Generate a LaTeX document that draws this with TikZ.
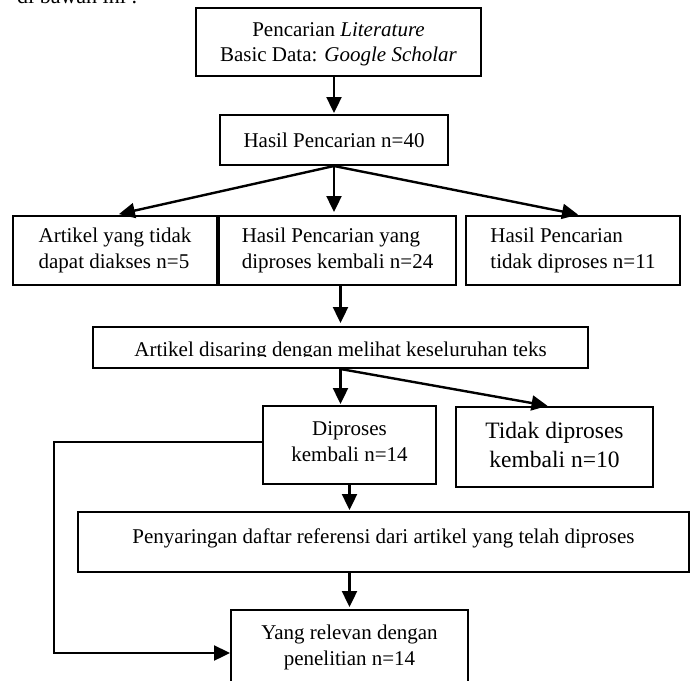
\documentclass[tikz,border=0pt]{standalone}
\usepackage{fontspec}
\setmainfont{Liberation Serif}
\usetikzlibrary{arrows.meta}

\tikzset{
  teks/.style={font=\fontsize{21}{25.5}\selectfont},
  box/.style={draw, line width=2pt, inner sep=0pt, teks},
  cbox/.style={box, align=center},
  lbox/.style={box, align=left},
  conn/.style={line width=2.4pt, ->},
}

\begin{document}
\begin{tikzpicture}[x=1pt, y=-1pt, >={Triangle[length=16pt,width=15pt]}]
\useasboundingbox (0,0) rectangle (696,680);

% sisa kalimat di atas bagan
\node[anchor=base west, font=\fontsize{22}{26}\selectfont, inner sep=0pt] (pengantar) at (17,3) {di bawah ini :};

\node[cbox, minimum width=285pt, minimum height=68pt, text depth=0pt] (cari) at (338.5,42) {Pencarian \textit{Literature}\\Basic Data: \textit{Google Scholar}};
\node[cbox, minimum width=228pt, minimum height=50pt] (hasil) at (334,140) {Hasil Pencarian n=40};

\node[lbox, minimum width=204pt, minimum height=69pt] (akses) at (115,250.5) {Artikel yang tidak\\dapat diakses n=5};
\node[lbox, minimum width=237pt, minimum height=69pt] (ulang) at (337.5,250.5) {Hasil Pencarian yang\\diproses kembali n=24};
\node[lbox, minimum width=214pt, minimum height=69pt] (buang) at (573,250.5) {Hasil Pencarian\\tidak diproses n=11};

\node[box, minimum width=495pt, minimum height=41pt] (saring) at (340.5,347.5) {};
\begin{scope}
  \clip (saring.north west) rectangle ([yshift=-30pt]saring.north east);
  \node[teks, anchor=base, inner sep=0pt] (saringteks) at (340.5,356) {Artikel disaring dengan melihat keseluruhan teks};
\end{scope}

\node[cbox, minimum width=173pt, minimum height=78pt, text depth=7pt] (lanjut) at (349.5,445) {Diproses\\kembali n=14};
\node[cbox, minimum width=197pt, minimum height=80pt, text depth=5pt, font=\fontsize{23.5}{29}\selectfont] (henti) at (554.5,447) {Tidak diproses\\kembali n=10};
\node[cbox, minimum width=611pt, minimum height=60pt, text depth=12pt] (daftar) at (383.5,542) {Penyaringan daftar referensi dari artikel yang telah diproses};
\node[cbox, minimum width=237pt, minimum height=75pt] (relevan) at (349.5,647.5) {Yang relevan dengan\\penelitian n=14};

\draw[conn, shorten >=1pt] (hasil.north |- cari.south) -- (hasil.north);
\draw[conn, shorten >=4pt] (hasil.south) -- (akses.north);
\draw[conn, shorten >=3pt] (hasil.south) -- (hasil.south |- ulang.north);
\draw[conn, shorten >=2pt] (hasil.south) -- ([xshift=7pt]buang.north);
\draw[conn, shorten >=3pt] (saring.north |- ulang.south) -- (saring.north);
\draw[conn, shorten >=1pt] (saring.south) -- (saring.south |- lanjut.north);
\draw[conn, shorten >=1pt] (saring.south) -- ([xshift=-6pt]henti.north);
\draw[conn, shorten >=1pt] (lanjut.south) -- (lanjut.south |- daftar.north);
\draw[conn, shorten >=2pt] (relevan.north |- daftar.south) -- (relevan.north);
\coordinate (belok) at (54,442);
\draw[conn] ([yshift=3pt]lanjut.west) -- (belok) |- ([yshift=-5.5pt]relevan.west);
\end{tikzpicture}
\end{document}
